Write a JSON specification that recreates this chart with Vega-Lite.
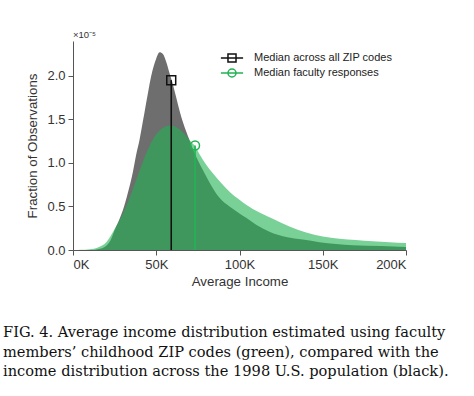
{
  "$schema": "https://vega.github.io/schema/vega-lite/v6.json",
  "width": 333,
  "height": 209,
  "autosize": {"type": "none"},
  "padding": {"left": 73, "top": 41, "right": 68, "bottom": 146},
  "background": "white",
  "config": {
    "view": {"stroke": null},
    "font": "Liberation Sans",
    "axis": {
      "grid": false,
      "domainColor": "#555555",
      "tickColor": "#555555",
      "tickSize": 5,
      "labelFontSize": 13,
      "labelColor": "#333333",
      "titleFontSize": 13.3,
      "titleFontWeight": "normal",
      "titleColor": "#333333",
      "labelFont": "Liberation Sans",
      "titleFont": "Liberation Sans"
    }
  },
  "title": {
    "text": [
      "FIG. 4. Average income distribution estimated using faculty",
      "members’ childhood ZIP codes (green), compared with the",
      "income distribution across the 1998 U.S. population (black)."
    ],
    "orient": "bottom",
    "anchor": "start",
    "frame": "group",
    "dx": -70,
    "offset": 38,
    "font": "DejaVu Serif",
    "fontSize": 14.6,
    "fontWeight": "normal",
    "color": "#111111",
    "lineHeight": 19.5
  },
  "datasets": {
    "curves": [
      {"income": 0, "value": 0.0, "series": "all"},
      {"income": 10000, "value": 0.0, "series": "all"},
      {"income": 15000, "value": 0.01, "series": "all"},
      {"income": 20000, "value": 0.05, "series": "all"},
      {"income": 23000, "value": 0.13, "series": "all"},
      {"income": 25000, "value": 0.23, "series": "all"},
      {"income": 28000, "value": 0.36, "series": "all"},
      {"income": 30000, "value": 0.46, "series": "all"},
      {"income": 33000, "value": 0.66, "series": "all"},
      {"income": 36000, "value": 0.9, "series": "all"},
      {"income": 38000, "value": 1.1, "series": "all"},
      {"income": 40000, "value": 1.27, "series": "all"},
      {"income": 42000, "value": 1.48, "series": "all"},
      {"income": 45000, "value": 1.8, "series": "all"},
      {"income": 47000, "value": 2.0, "series": "all"},
      {"income": 50000, "value": 2.2, "series": "all"},
      {"income": 52000, "value": 2.27, "series": "all"},
      {"income": 54000, "value": 2.25, "series": "all"},
      {"income": 56000, "value": 2.16, "series": "all"},
      {"income": 58000, "value": 2.03, "series": "all"},
      {"income": 60000, "value": 1.9, "series": "all"},
      {"income": 62000, "value": 1.75, "series": "all"},
      {"income": 64000, "value": 1.6, "series": "all"},
      {"income": 66000, "value": 1.47, "series": "all"},
      {"income": 68000, "value": 1.36, "series": "all"},
      {"income": 70000, "value": 1.26, "series": "all"},
      {"income": 72000, "value": 1.16, "series": "all"},
      {"income": 75000, "value": 1.03, "series": "all"},
      {"income": 78000, "value": 0.92, "series": "all"},
      {"income": 81000, "value": 0.81, "series": "all"},
      {"income": 84000, "value": 0.71, "series": "all"},
      {"income": 88000, "value": 0.6, "series": "all"},
      {"income": 94000, "value": 0.5, "series": "all"},
      {"income": 100000, "value": 0.42, "series": "all"},
      {"income": 104000, "value": 0.37, "series": "all"},
      {"income": 110000, "value": 0.29, "series": "all"},
      {"income": 118000, "value": 0.21, "series": "all"},
      {"income": 128000, "value": 0.15, "series": "all"},
      {"income": 138000, "value": 0.12, "series": "all"},
      {"income": 148000, "value": 0.09, "series": "all"},
      {"income": 158000, "value": 0.07, "series": "all"},
      {"income": 168000, "value": 0.055, "series": "all"},
      {"income": 185000, "value": 0.045, "series": "all"},
      {"income": 200000, "value": 0.035, "series": "all"},
      {"income": 0, "value": 0.0, "series": "faculty"},
      {"income": 5000, "value": 0.003, "series": "faculty"},
      {"income": 10000, "value": 0.01, "series": "faculty"},
      {"income": 15000, "value": 0.03, "series": "faculty"},
      {"income": 20000, "value": 0.09, "series": "faculty"},
      {"income": 25000, "value": 0.24, "series": "faculty"},
      {"income": 30000, "value": 0.42, "series": "faculty"},
      {"income": 33000, "value": 0.55, "series": "faculty"},
      {"income": 36000, "value": 0.7, "series": "faculty"},
      {"income": 40000, "value": 0.91, "series": "faculty"},
      {"income": 44000, "value": 1.11, "series": "faculty"},
      {"income": 48000, "value": 1.27, "series": "faculty"},
      {"income": 52000, "value": 1.37, "series": "faculty"},
      {"income": 56000, "value": 1.42, "series": "faculty"},
      {"income": 59000, "value": 1.43, "series": "faculty"},
      {"income": 62000, "value": 1.41, "series": "faculty"},
      {"income": 65000, "value": 1.37, "series": "faculty"},
      {"income": 68000, "value": 1.31, "series": "faculty"},
      {"income": 71000, "value": 1.24, "series": "faculty"},
      {"income": 73000, "value": 1.2, "series": "faculty"},
      {"income": 76000, "value": 1.1, "series": "faculty"},
      {"income": 80000, "value": 0.98, "series": "faculty"},
      {"income": 84000, "value": 0.88, "series": "faculty"},
      {"income": 89000, "value": 0.77, "series": "faculty"},
      {"income": 94000, "value": 0.67, "series": "faculty"},
      {"income": 99000, "value": 0.59, "series": "faculty"},
      {"income": 104000, "value": 0.52, "series": "faculty"},
      {"income": 112000, "value": 0.43, "series": "faculty"},
      {"income": 120000, "value": 0.36, "series": "faculty"},
      {"income": 130000, "value": 0.27, "series": "faculty"},
      {"income": 140000, "value": 0.2, "series": "faculty"},
      {"income": 150000, "value": 0.155, "series": "faculty"},
      {"income": 160000, "value": 0.13, "series": "faculty"},
      {"income": 170000, "value": 0.115, "series": "faculty"},
      {"income": 180000, "value": 0.1, "series": "faculty"},
      {"income": 190000, "value": 0.09, "series": "faculty"},
      {"income": 200000, "value": 0.08, "series": "faculty"}
    ],
    "medians": [
      {"income": 59000, "value": 1.95, "series": "all", "label": "Median across all ZIP codes"},
      {"income": 73300, "value": 1.2, "series": "faculty", "label": "Median faculty responses"}
    ]
  },
  "layer": [
    {
      "data": {"name": "curves"},
      "transform": [{"filter": "datum.series === 'all'"}],
      "mark": {"type": "area", "interpolate": "monotone", "color": "#6e6e6e"},
      "encoding": {
        "x": {
          "field": "income", "type": "quantitative",
          "scale": {"domain": [0, 200000], "nice": false},
          "axis": {"values": [0, 50000, 100000, 150000, 200000], "labelExpr": "(datum.value / 1000) + 'K'", "title": "Average Income", "labelPadding": 3, "titlePadding": 3}
        },
        "y": {
          "field": "value", "type": "quantitative",
          "scale": {"domain": [0, 2.4], "nice": false},
          "axis": {"values": [0, 0.5, 1, 1.5, 2], "format": ".1f", "title": "Fraction of Observations", "labelPadding": 3, "titlePadding": 7}
        }
      }
    },
    {
      "data": {"name": "curves"},
      "transform": [{"filter": "datum.series === 'faculty'"}],
      "mark": {"type": "area", "interpolate": "monotone", "color": "#22b354", "opacity": 0.6},
      "encoding": {
        "x": {"field": "income", "type": "quantitative"},
        "y": {"field": "value", "type": "quantitative"}
      }
    },
    {
      "data": {"name": "medians"},
      "transform": [{"filter": "datum.series === 'all'"}],
      "mark": {"type": "rule", "strokeWidth": 1.6, "color": "#111111"},
      "encoding": {
        "x": {"field": "income", "type": "quantitative"},
        "y": {"field": "value", "type": "quantitative"},
        "y2": {"datum": 0}
      }
    },
    {
      "data": {"name": "medians"},
      "transform": [{"filter": "datum.series === 'faculty'"}],
      "mark": {"type": "rule", "strokeWidth": 1.6, "color": "#22b354"},
      "encoding": {
        "x": {"field": "income", "type": "quantitative"},
        "y": {"field": "value", "type": "quantitative"},
        "y2": {"datum": 0}
      }
    },
    {
      "data": {"name": "medians"},
      "transform": [{"filter": "datum.series === 'all'"}],
      "mark": {"type": "point", "shape": "square", "filled": false, "strokeWidth": 1.5, "size": 80, "color": "#111111", "opacity": 1},
      "encoding": {
        "x": {"field": "income", "type": "quantitative"},
        "y": {"field": "value", "type": "quantitative"}
      }
    },
    {
      "data": {"name": "medians"},
      "transform": [{"filter": "datum.series === 'faculty'"}],
      "mark": {"type": "point", "shape": "circle", "filled": false, "strokeWidth": 1.5, "size": 80, "color": "#22b354", "opacity": 1},
      "encoding": {
        "x": {"field": "income", "type": "quantitative"},
        "y": {"field": "value", "type": "quantitative"}
      }
    },
    {
      "data": {"name": "medians"},
      "mark": {"type": "point", "filled": false, "strokeWidth": 1.5, "opacity": 0},
      "encoding": {
        "x": {"field": "income", "type": "quantitative"},
        "y": {"field": "value", "type": "quantitative"},
        "color": {
          "field": "label", "type": "nominal",
          "scale": {"domain": ["Median across all ZIP codes", "Median faculty responses"], "range": ["#111111", "#22b354"]},
          "legend": {
            "title": null, "orient": "none", "legendX": 152, "legendY": 10, "padding": 0,
            "symbolSize": 144, "symbolStrokeWidth": 1.5, "symbolOpacity": 1, "labelOffset": 15, "labelFontSize": 11, "labelFont": "Liberation Sans", "labelColor": "#222222", "rowPadding": -2,
            "symbolFillColor": "transparent"
          }
        },
        "shape": {
          "field": "label", "type": "nominal",
          "scale": {"domain": ["Median across all ZIP codes", "Median faculty responses"], "range": ["M-1.85,0H1.85M-0.67,-0.67H0.67V0.67H-0.67Z", "M-1.85,0H1.85M0.67,0A0.67,0.67 0 1,1 -0.67,0A0.67,0.67 0 1,1 0.67,0Z"]}
        }
      }
    },
    {
      "data": {"values": [{"x": 0, "y": 2.4, "t": "×10⁻⁵"}]},
      "mark": {"type": "text", "align": "left", "baseline": "bottom", "dy": -1, "fontSize": 9.5, "color": "#333333"},
      "encoding": {
        "x": {"field": "x", "type": "quantitative"},
        "y": {"field": "y", "type": "quantitative"},
        "text": {"field": "t"}
      }
    }
  ]
}
